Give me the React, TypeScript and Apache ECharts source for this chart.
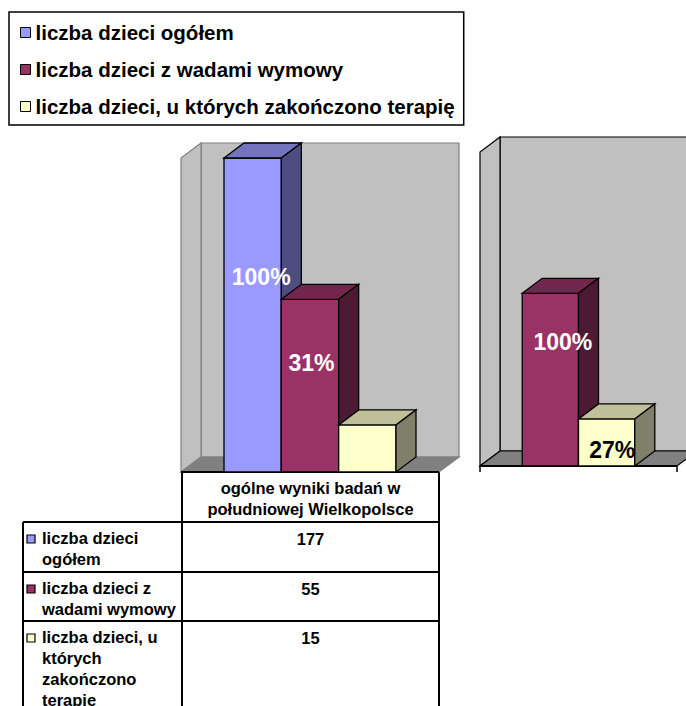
import React, { useEffect, useRef } from 'react';
import * as echarts from 'echarts';

// ---- data ----
const SERIES_NAMES = [
  'liczba dzieci ogółem',
  'liczba dzieci z wadami wymowy',
  'liczba dzieci, u których zakończono terapię',
];
const CATEGORY_LINES = ['ogólne wyniki badań w', 'południowej Wielkopolsce'];
const COUNTS = [177, 55, 15];
// which series each of the two column groups shows
const LEFT_PANEL_SERIES = [0, 1, 2];
const RIGHT_PANEL_SERIES = [1, 2];
const VALUE_AXIS_MIN = 0;
const VALUE_AXIS_MAX = 100;

// ---- styling ----
const FONT = '"Liberation Sans", Arial, sans-serif';
const FACE = ['#9999FF', '#993366', '#FFFFCC'];
const TOP = ['#7373BF', '#73264D', '#BFBF99'];
const SIDE = ['#4D4D80', '#4D1A33', '#80806A'];
const WALL = '#C0C0C0';
const FLOOR = '#808080';
const DEPTH_X = 20;
const DEPTH_Y = -15;
const GAP_RATIO = 1.5; // gap width as a multiple of the bar width

type LabelPlace = { dx: number; at: number; color: string } | null;
type Panel = {
  series: number[];
  grid: { left: number; top: number; width: number; height: number };
  edge: string;
  ticks: boolean;
  labels: LabelPlace[];
};

const PANELS: Panel[] = [
  {
    series: LEFT_PANEL_SERIES,
    grid: { left: 181, top: 158, width: 258, height: 314 },
    edge: '#808080',
    ticks: false,
    labels: [
      { dx: 8.5, at: 0.62, color: '#FFFFFF' },
      { dx: 1.5, at: 0.63, color: '#FFFFFF' },
      null,
    ],
  },
  {
    series: RIGHT_PANEL_SERIES,
    grid: { left: 480, top: 152, width: 197, height: 314 },
    edge: '#000000',
    ticks: true,
    labels: [
      { dx: 12.5, at: 0.72, color: '#FFFFFF' },
      { dx: 5.5, at: 0.34, color: '#000000' },
    ],
  },
];

const LINE = { stroke: '#000', lineWidth: 1.3 };

function frameRenderer(edge: string, ticks: boolean) {
  return (params: any) => {
    const { x, y, width: w, height: h } = params.coordSys;
    const b = y + h;
    const children: any[] = [
      {
        type: 'rect',
        shape: { x: x + DEPTH_X, y: y + DEPTH_Y, width: w, height: h },
        style: { fill: WALL, stroke: edge, lineWidth: 1.2 },
      },
      {
        type: 'polygon',
        shape: { points: [[x, b], [x, y], [x + DEPTH_X, y + DEPTH_Y], [x + DEPTH_X, b + DEPTH_Y]] },
        style: { fill: WALL, stroke: edge, lineWidth: 1.2 },
      },
      {
        type: 'polygon',
        shape: { points: [[x, b], [x + DEPTH_X, b + DEPTH_Y], [x + w + DEPTH_X, b + DEPTH_Y], [x + w, b]] },
        style: { fill: FLOOR, stroke: edge, lineWidth: 1.2 },
      },
      {
        type: 'line',
        shape: { x1: x, y1: b, x2: x + w, y2: b },
        style: { stroke: '#000', lineWidth: 2 },
      },
    ];
    if (ticks) {
      children.push(
        { type: 'line', shape: { x1: x, y1: b, x2: x, y2: b + 6 }, style: { stroke: '#000', lineWidth: 1.5 } },
        { type: 'line', shape: { x1: x + w, y1: b, x2: x + w, y2: b + 6 }, style: { stroke: '#000', lineWidth: 1.5 } },
      );
    }
    return { type: 'group', children };
  };
}

function barRenderer(k: number, n: number, s: number, base: number, label: LabelPlace) {
  return (_params: any, api: any) => {
    const raw = api.value(1) as number;
    const v = Math.min(raw, VALUE_AXIS_MAX);
    const band = (api.size([1, 0]) as number[])[0];
    const [cx, y0] = api.coord([0, VALUE_AXIS_MIN]);
    const yTop = api.coord([0, v])[1];
    const w = band / (n + GAP_RATIO);
    const x0 = cx - band / 2 + (w * GAP_RATIO) / 2 + k * w;
    const x1 = x0 + w;
    const children: any[] = [
      { type: 'rect', shape: { x: x0, y: yTop, width: w, height: y0 - yTop }, style: { fill: FACE[s], ...LINE } },
      {
        type: 'polygon',
        shape: { points: [[x0, yTop], [x0 + DEPTH_X, yTop + DEPTH_Y], [x1 + DEPTH_X, yTop + DEPTH_Y], [x1, yTop]] },
        style: { fill: TOP[s], ...LINE },
      },
      {
        type: 'polygon',
        shape: { points: [[x1, yTop], [x1 + DEPTH_X, yTop + DEPTH_Y], [x1 + DEPTH_X, y0 + DEPTH_Y], [x1, y0]] },
        style: { fill: SIDE[s], ...LINE },
      },
    ];
    if (label) {
      const pct = Math.round((raw / base) * 100);
      children.push({
        type: 'text',
        x: x0 + w / 2 + label.dx,
        y: y0 - (y0 - yTop) * label.at,
        style: {
          text: pct + '%',
          fill: label.color,
          fontFamily: FONT,
          fontWeight: 'bold',
          fontSize: 23,
          align: 'center',
          verticalAlign: 'middle',
        },
      });
    }
    return { type: 'group', children };
  };
}

function buildTable() {
  const g = PANELS[0].grid;
  const colLeft = g.left + 1;
  const colRight = g.left + g.width;
  const headTop = g.top + g.height;
  const headBottom = 522;
  const rowTops = [522, 572, 621];
  const tableLeft = 23;
  const tableBottom = 720;
  const stroke = { stroke: '#000', lineWidth: 2 };
  const els: any[] = [
    { type: 'line', shape: { x1: colLeft, y1: headTop, x2: colLeft, y2: tableBottom }, style: stroke },
    { type: 'line', shape: { x1: colRight, y1: headTop, x2: colRight, y2: tableBottom }, style: stroke },
    { type: 'line', shape: { x1: tableLeft, y1: headBottom, x2: tableLeft, y2: tableBottom }, style: stroke },
    {
      type: 'text',
      x: (colLeft + colRight) / 2,
      y: headTop + 5,
      style: {
        text: CATEGORY_LINES.join('\n'),
        fill: '#000',
        fontFamily: FONT,
        fontWeight: 'bold',
        fontSize: 16.5,
        lineHeight: 21,
        align: 'center',
        verticalAlign: 'top',
      },
    },
  ];
  rowTops.forEach((top, i) => {
    els.push({ type: 'line', shape: { x1: tableLeft, y1: top, x2: colRight, y2: top }, style: stroke });
    els.push({
      type: 'rect',
      shape: { x: 27, y: top + 13, width: 8, height: 8 },
      style: { fill: FACE[i], stroke: '#000', lineWidth: 1.2 },
    });
    els.push({
      type: 'text',
      x: 42,
      y: top + 5,
      style: {
        text: SERIES_NAMES[i],
        width: 140,
        overflow: 'break',
        fill: '#000',
        fontFamily: FONT,
        fontWeight: 'bold',
        fontSize: 16.5,
        lineHeight: 21,
        align: 'left',
        verticalAlign: 'top',
      },
    });
    els.push({
      type: 'text',
      x: (colLeft + colRight) / 2,
      y: top + 6,
      style: {
        text: String(COUNTS[i]),
        fill: '#000',
        fontFamily: FONT,
        fontWeight: 'bold',
        fontSize: 16.5,
        lineHeight: 21,
        align: 'center',
        verticalAlign: 'top',
      },
    });
  });
  return els;
}

function buildOption() {
  const grid: any[] = [];
  const xAxis: any[] = [];
  const yAxis: any[] = [];
  const series: any[] = [];
  PANELS.forEach((p, pi) => {
    grid.push({ ...p.grid, containLabel: false });
    xAxis.push({ type: 'category', gridIndex: pi, data: [CATEGORY_LINES.join(' ')], show: false });
    yAxis.push({ type: 'value', gridIndex: pi, min: VALUE_AXIS_MIN, max: VALUE_AXIS_MAX, show: false });
    series.push({
      type: 'custom',
      xAxisIndex: pi,
      yAxisIndex: pi,
      silent: true,
      z: 1,
      data: [[0, 0]],
      renderItem: frameRenderer(p.edge, p.ticks),
    });
    const base = COUNTS[p.series[0]];
    p.series.forEach((s, k) => {
      series.push({
        type: 'custom',
        name: SERIES_NAMES[s],
        xAxisIndex: pi,
        yAxisIndex: pi,
        z: 2,
        itemStyle: { color: FACE[s] },
        data: [[0, COUNTS[s]]],
        renderItem: barRenderer(k, p.series.length, s, base, p.labels[k]),
      });
    });
  });

  return {
    animation: false,
    backgroundColor: '#FFFFFF',
    textStyle: { fontFamily: FONT },
    legend: {
      data: SERIES_NAMES,
      orient: 'vertical',
      left: 9,
      top: 12,
      padding: [10, 9, 8, 11],
      itemGap: 16,
      itemWidth: 10,
      itemHeight: 10,
      icon: 'rect',
      selectedMode: false,
      backgroundColor: '#FFFFFF',
      borderColor: '#000',
      borderWidth: 1.5,
      borderRadius: 0,
      itemStyle: { borderColor: '#000', borderWidth: 1 },
      textStyle: { fontFamily: FONT, fontWeight: 'bold', fontSize: 20.5, lineHeight: 20, color: '#000' },
    },
    grid,
    xAxis,
    yAxis,
    series,
    graphic: buildTable(),
  };
}

export default function App() {
  const ref = useRef<HTMLDivElement>(null);
  useEffect(() => {
    if (!ref.current) return;
    const chart = echarts.init(ref.current, undefined, { renderer: 'svg' });
    chart.setOption(buildOption() as any);
    return () => chart.dispose();
  }, []);
  return (
    <div
      ref={ref}
      style={{ position: 'fixed', left: 0, top: 0, width: 686, height: 706, background: '#fff' }}
    />
  );
}
